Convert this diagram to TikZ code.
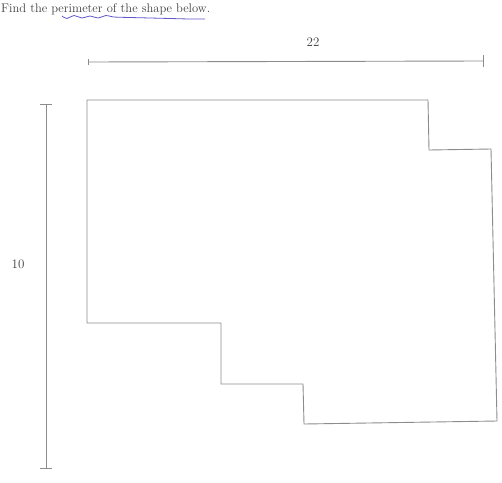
\documentclass[tikz,border=0pt]{standalone}
\usepackage[RGB]{xcolor}
\definecolor{edge}{RGB}{140,140,140}
\definecolor{pen}{RGB}{95,85,200}
\newcommand{\drawedge}{\draw[edge, line width=0.9pt]}
\newcommand{\dimtick}[3]{\draw[edge, line width=0.9pt] (#1-#3, #2)--(#1+#3, #2);}
\begin{document}
\begin{tikzpicture}[x=1pt, y=-1pt]
\useasboundingbox (0,0) rectangle (502,482);
% title and pen mark
\node[anchor=base west, inner sep=0pt, text=black!75] (title) at (1,12) {\fontsize{12.5}{14}\selectfont Find the perimeter of the shape below.};
\draw[pen, line width=0.8pt] plot[smooth, tension=0.6] coordinates {(62,16) (67,18.5) (74,15.5) (82,18) (90,16) (98,18) (106,15.5) (114,17) (130,17.5) (150,18) (170,18.5) (190,19) (205,19)};
% top dimension
\drawedge (88,62)--(483,61);
\drawedge (88,59)--(88,65);
\drawedge (483,55)--(483,67);
\node[text=black!75] (width) at (313,42) {\fontsize{13}{15}\selectfont 22};
% left dimension
\drawedge (46,104)--(46,468);
\dimtick{46}{104}{6}\dimtick{46}{468}{6}
\node[text=black!75] (height) at (18,264) {\fontsize{13}{15}\selectfont 10};
% the shape
\drawedge (87,100)--(428,100)--(429,150)--(491,149)--(497,421)--(304,424)--(303,384)--(221,384)--(221,323)--(87,323)--cycle;
\end{tikzpicture}
\end{document}
